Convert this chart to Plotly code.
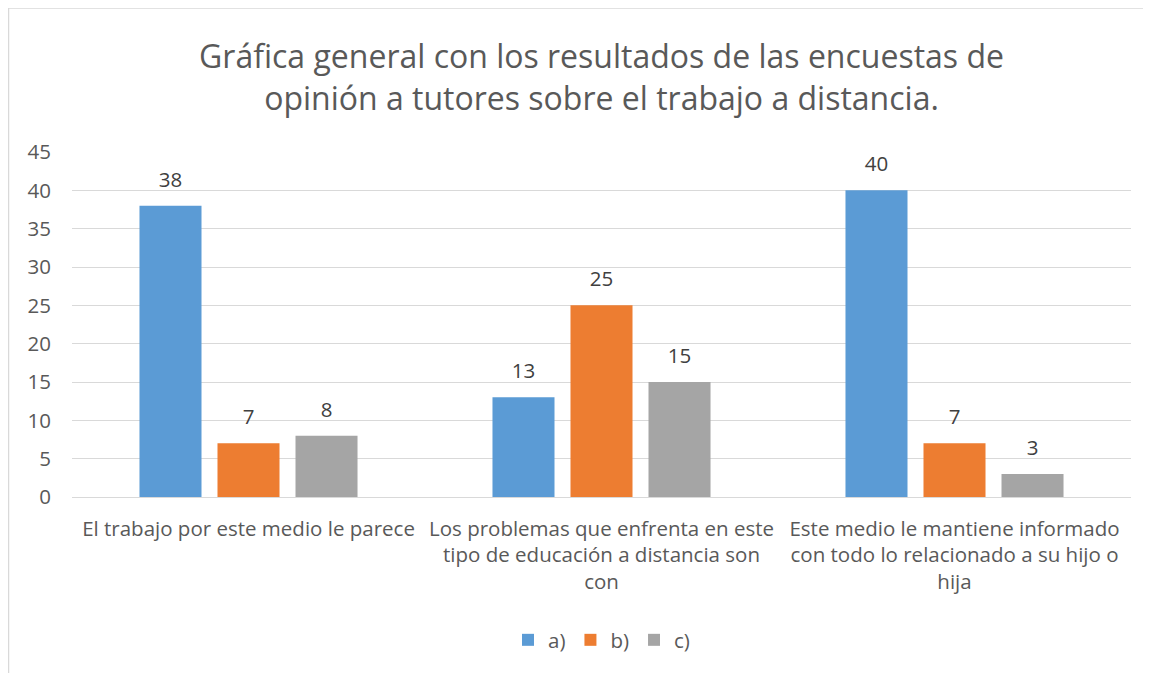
import plotly.graph_objects as go

categories = [
    "El trabajo por este medio le parece",
    "Los problemas que enfrenta en este<br>tipo de educación a distancia son<br>con",
    "Este medio le mantiene informado<br>con todo lo relacionado a su hijo o<br>hija",
]
series_names = ["a)", "b)", "c)"]
values_a = [38, 13, 40]
values_b = [7, 25, 7]
values_c = [8, 15, 3]
colors = ["#5B9BD5", "#ED7D31", "#A5A5A5"]
y_ticks = [0, 5, 10, 15, 20, 25, 30, 35, 40, 45]

FONT = "Open Sans"
TXT = "#595959"
FS = 20.5

fig = go.Figure()
for name, vals, col in zip(series_names, [values_a, values_b, values_c], colors):
    fig.add_trace(go.Bar(
        x=categories, y=vals, name=name, marker=dict(color=col, line=dict(width=0)),
        text=[f"<span style='font-size:{FS}px'>{v}</span><br> " for v in vals],
        textposition="outside", cliponaxis=False,
        textfont=dict(family=FONT, size=10, color="#404040"),
    ))

# page body has 8px margin; figure placed at (8,8)
W, H = 1143, 665
L, R, T, B = 64, 20, 144, 176
pw, ph = W - L - R, H - T - B

def px(x):
    return (x - L) / pw

def py(y):
    return (H - B - y) / ph

fig.update_layout(
    width=W, height=H,
    margin=dict(l=L, r=R, t=T, b=B, autoexpand=False),
    paper_bgcolor="white", plot_bgcolor="white",
    barmode="group", bargap=0.337, bargroupgap=0.205,
    font=dict(family=FONT, color=TXT, size=FS),
    title=dict(
        text="Gráfica general con los resultados de las encuestas de<br>opinión a tutores sobre el trabajo a distancia.",
        x=0.5, xref="paper", xanchor="center", y=1 - 60 / H, yanchor="top",
        font=dict(family=FONT, size=32, color=TXT),
    ),
    xaxis=dict(showgrid=False, showline=False, ticks="", tickfont=dict(size=FS, color=TXT),
               ticklabelstandoff=17),
    yaxis=dict(range=[0, 45], tickvals=y_ticks, showgrid=True, gridcolor="#D9D9D9", gridwidth=1,
               zeroline=True, zerolinecolor="#D9D9D9", zerolinewidth=1, showline=False,
               ticks="", tickfont=dict(size=FS, color=TXT), ticklabelstandoff=20),
    legend=dict(orientation="h", x=0.5, xanchor="center", y=py(632), yanchor="middle",
                font=dict(size=FS, color=TXT), itemwidth=30, traceorder="normal"),
    showlegend=True,
)

fig.add_shape(type="rect", xref="paper", yref="paper",
              x0=px(0.5), x1=px(W + 20), y0=py(0), y1=py(H + 20),
              line=dict(color="#D9D9D9", width=1.5), fillcolor="rgba(0,0,0,0)", layer="below")

fig.write_html("out.html")
